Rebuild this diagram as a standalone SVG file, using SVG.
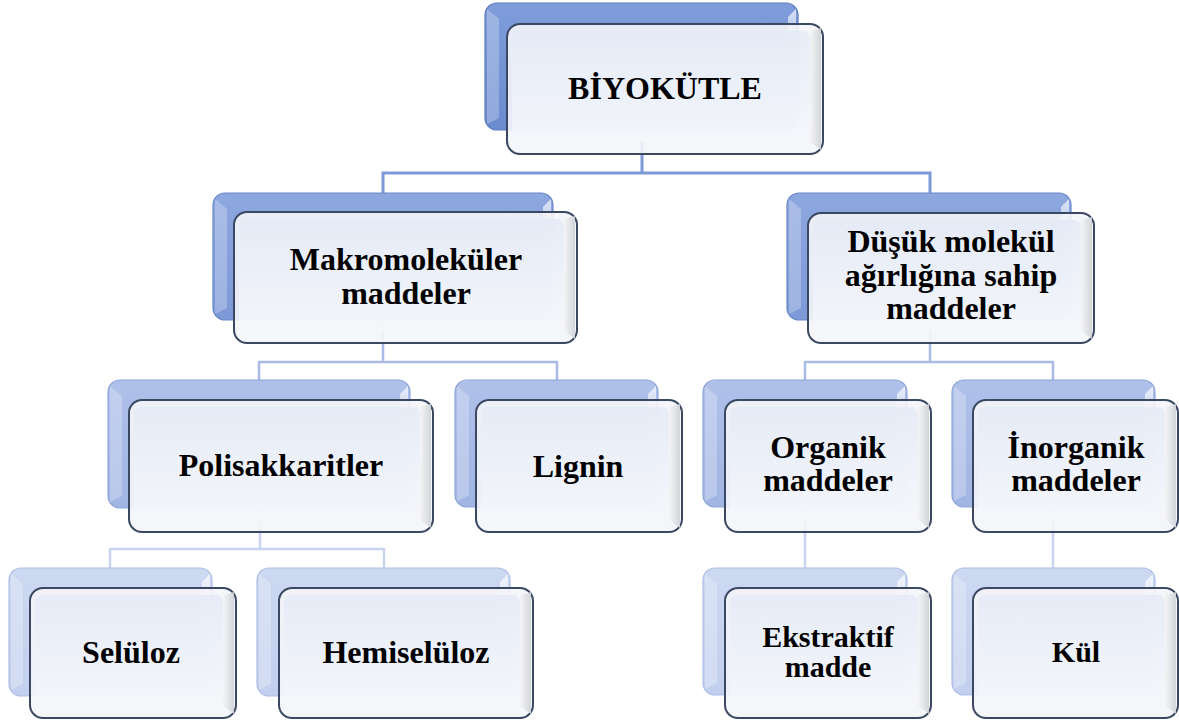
<svg xmlns="http://www.w3.org/2000/svg" width="1179" height="722" viewBox="0 0 1179 722">
<defs>
<linearGradient id="gb1" x1="0" y1="0" x2="0" y2="1"><stop offset="0" stop-color="#7F9DDA"/><stop offset="1" stop-color="#6B8BCF"/></linearGradient>
<linearGradient id="gb2" x1="0" y1="0" x2="0" y2="1"><stop offset="0" stop-color="#8DA7DF"/><stop offset="1" stop-color="#7D99D7"/></linearGradient>
<linearGradient id="gb3" x1="0" y1="0" x2="0" y2="1"><stop offset="0" stop-color="#AFC0E9"/><stop offset="1" stop-color="#A1B5E4"/></linearGradient>
<linearGradient id="gb4" x1="0" y1="0" x2="0" y2="1"><stop offset="0" stop-color="#CDD8F1"/><stop offset="1" stop-color="#C2CFEE"/></linearGradient>
<linearGradient id="gi" x1="0" y1="0" x2="0" y2="1"><stop offset="0" stop-color="#E4EAF6"/><stop offset="1" stop-color="#F5F7FB"/></linearGradient>
<linearGradient id="grb" x1="0" y1="0" x2="1" y2="0"><stop offset="0" stop-color="#F4F4F5"/><stop offset="1" stop-color="#CFD2D7"/></linearGradient>
<linearGradient id="ghl" x1="0" y1="0" x2="0" y2="1"><stop offset="0" stop-color="#FFFFFF" stop-opacity=".7"/><stop offset="1" stop-color="#FFFFFF" stop-opacity=".1"/></linearGradient>
</defs>
<style>
.c1{fill:none;stroke:#7D99D6;stroke-width:3}
.c2{fill:none;stroke:#A9BCE7;stroke-width:2.5}
.c3{fill:none;stroke:#C8D4EF;stroke-width:2.5}
.b1{fill:url(#gb1);stroke:#5C7BC0;stroke-width:1.2}
.b2{fill:url(#gb2);stroke:#6A88CA;stroke-width:1.2}
.b3{fill:url(#gb3);stroke:#8FA6DB;stroke-width:1.2}
.b4{fill:url(#gb4);stroke:#AEBFE6;stroke-width:1.2}
.lb{fill:#FFFFFF;fill-opacity:.25}
.hl{fill:url(#ghl)}
.fo{fill:#F4F5F8;fill-opacity:.9;stroke:#3A4863;stroke-width:2}
.fi{fill:url(#gi);fill-opacity:.85}
.rb{fill:url(#grb);fill-opacity:.9}
.t{font-family:"Liberation Serif","Times New Roman",serif;font-weight:bold;font-size:32px;text-anchor:middle;fill:#000}
.s{font-size:30px}
</style>
<g id="connectors">
<path class="c1" d="M642,130V173M383,173H930M383,171.5V193M930,171.5V193"/>
<path class="c2" d="M383,320V362M259,362H557M259,361V380M557,361V380"/>
<path class="c2" d="M930,320V362M805,362H1053M805,361V380M1053,361V380"/>
<path class="c3" d="M260,508V549M110,549H384M110,548V568M384,548V568"/>
<path class="c3" d="M805,508V568M1053,508V568"/>
</g>
<g id="n1">
<rect class="b1" x="485" y="3" width="313" height="127" rx="12"/>
<path class="lb" d="M487,9L499,19L499,118L487,124Z"/>
<path class="hl" d="M796,9L788,17L788,60L796,64Z"/>
<rect class="fo" x="507" y="24" width="316" height="130" rx="13"/>
<path class="rb" d="M821,28L810,31L810,142L821,150Z"/>
<rect class="fi" x="512" y="31" width="298" height="111" rx="7"/>
<text class="t" x="665" y="99">BİYOKÜTLE</text>
</g>
<g id="n2">
<rect class="b2" x="213" y="193" width="340" height="127" rx="12"/>
<path class="lb" d="M215,199L227,209L227,308L215,314Z"/>
<path class="hl" d="M551,199L543,207L543,250L551,254Z"/>
<rect class="fo" x="234" y="212" width="343" height="131" rx="13"/>
<path class="rb" d="M575,216L564,219L564,331L575,339Z"/>
<rect class="fi" x="239" y="219" width="325" height="112" rx="7"/>
<text class="t" x="406" y="270">Makromoleküler</text>
<text class="t" x="406" y="304">maddeler</text>
</g>
<g id="n3">
<rect class="b2" x="787" y="193" width="284" height="127" rx="12"/>
<path class="lb" d="M789,199L801,209L801,308L789,314Z"/>
<path class="hl" d="M1069,199L1061,207L1061,250L1069,254Z"/>
<rect class="fo" x="808" y="213" width="286" height="130" rx="13"/>
<path class="rb" d="M1092,217L1081,220L1081,331L1092,339Z"/>
<rect class="fi" x="813" y="220" width="268" height="111" rx="7"/>
<text class="t" x="951" y="252">Düşük molekül</text>
<text class="t" x="951" y="286">ağırlığına sahip</text>
<text class="t" x="951" y="319">maddeler</text>
</g>
<g id="n4">
<rect class="b3" x="108" y="380" width="302" height="128" rx="12"/>
<path class="lb" d="M110,386L122,396L122,496L110,502Z"/>
<path class="hl" d="M408,386L400,394L400,437L408,441Z"/>
<rect class="fo" x="129" y="400" width="304" height="132" rx="13"/>
<path class="rb" d="M431,404L420,407L420,520L431,528Z"/>
<rect class="fi" x="134" y="407" width="286" height="113" rx="7"/>
<text class="t" x="281" y="476">Polisakkaritler</text>
</g>
<g id="n5">
<rect class="b3" x="455" y="380" width="203" height="127" rx="12"/>
<path class="lb" d="M457,386L469,396L469,495L457,501Z"/>
<path class="hl" d="M656,386L648,394L648,437L656,441Z"/>
<rect class="fo" x="476" y="400" width="206" height="132" rx="13"/>
<path class="rb" d="M680,404L669,407L669,520L680,528Z"/>
<rect class="fi" x="481" y="407" width="188" height="113" rx="7"/>
<text class="t" x="578" y="477">Lignin</text>
</g>
<g id="n6">
<rect class="b3" x="703" y="380" width="204" height="127" rx="12"/>
<path class="lb" d="M705,386L717,396L717,495L705,501Z"/>
<path class="hl" d="M905,386L897,394L897,437L905,441Z"/>
<rect class="fo" x="725" y="400" width="206" height="132" rx="13"/>
<path class="rb" d="M929,404L918,407L918,520L929,528Z"/>
<rect class="fi" x="730" y="407" width="188" height="113" rx="7"/>
<text class="t" x="828" y="458">Organik</text>
<text class="t" x="828" y="491">maddeler</text>
</g>
<g id="n7">
<rect class="b3" x="952" y="380" width="203" height="127" rx="12"/>
<path class="lb" d="M954,386L966,396L966,495L954,501Z"/>
<path class="hl" d="M1153,386L1145,394L1145,437L1153,441Z"/>
<rect class="fo" x="973" y="400" width="205" height="132" rx="13"/>
<path class="rb" d="M1176,404L1165,407L1165,520L1176,528Z"/>
<rect class="fi" x="978" y="407" width="187" height="113" rx="7"/>
<text class="t" x="1076" y="458">İnorganik</text>
<text class="t" x="1076" y="491">maddeler</text>
</g>
<g id="n8">
<rect class="b4" x="9" y="568" width="203" height="128" rx="12"/>
<path class="lb" d="M11,574L23,584L23,684L11,690Z"/>
<path class="hl" d="M210,574L202,582L202,625L210,629Z"/>
<rect class="fo" x="30" y="588" width="206" height="130" rx="13"/>
<path class="rb" d="M234,592L223,595L223,706L234,714Z"/>
<rect class="fi" x="35" y="595" width="188" height="111" rx="7"/>
<text class="t" x="131" y="663">Selüloz</text>
</g>
<g id="n9">
<rect class="b4" x="257" y="568" width="253" height="128" rx="12"/>
<path class="lb" d="M259,574L271,584L271,684L259,690Z"/>
<path class="hl" d="M508,574L500,582L500,625L508,629Z"/>
<rect class="fo" x="279" y="588" width="254" height="130" rx="13"/>
<path class="rb" d="M531,592L520,595L520,706L531,714Z"/>
<rect class="fi" x="284" y="595" width="236" height="111" rx="7"/>
<text class="t" x="406" y="663">Hemiselüloz</text>
</g>
<g id="n10">
<rect class="b4" x="703" y="568" width="204" height="127" rx="12"/>
<path class="lb" d="M705,574L717,584L717,683L705,689Z"/>
<path class="hl" d="M905,574L897,582L897,625L905,629Z"/>
<rect class="fo" x="725" y="588" width="206" height="130" rx="13"/>
<path class="rb" d="M929,592L918,595L918,706L929,714Z"/>
<rect class="fi" x="730" y="595" width="188" height="111" rx="7"/>
<text class="t s" x="828" y="647">Ekstraktif</text>
<text class="t s" x="828" y="677">madde</text>
</g>
<g id="n11">
<rect class="b4" x="952" y="568" width="203" height="127" rx="12"/>
<path class="lb" d="M954,574L966,584L966,683L954,689Z"/>
<path class="hl" d="M1153,574L1145,582L1145,625L1153,629Z"/>
<rect class="fo" x="973" y="588" width="205" height="130" rx="13"/>
<path class="rb" d="M1176,592L1165,595L1165,706L1176,714Z"/>
<rect class="fi" x="978" y="595" width="187" height="111" rx="7"/>
<text class="t s" x="1076" y="662">Kül</text>
</g>
</svg>
